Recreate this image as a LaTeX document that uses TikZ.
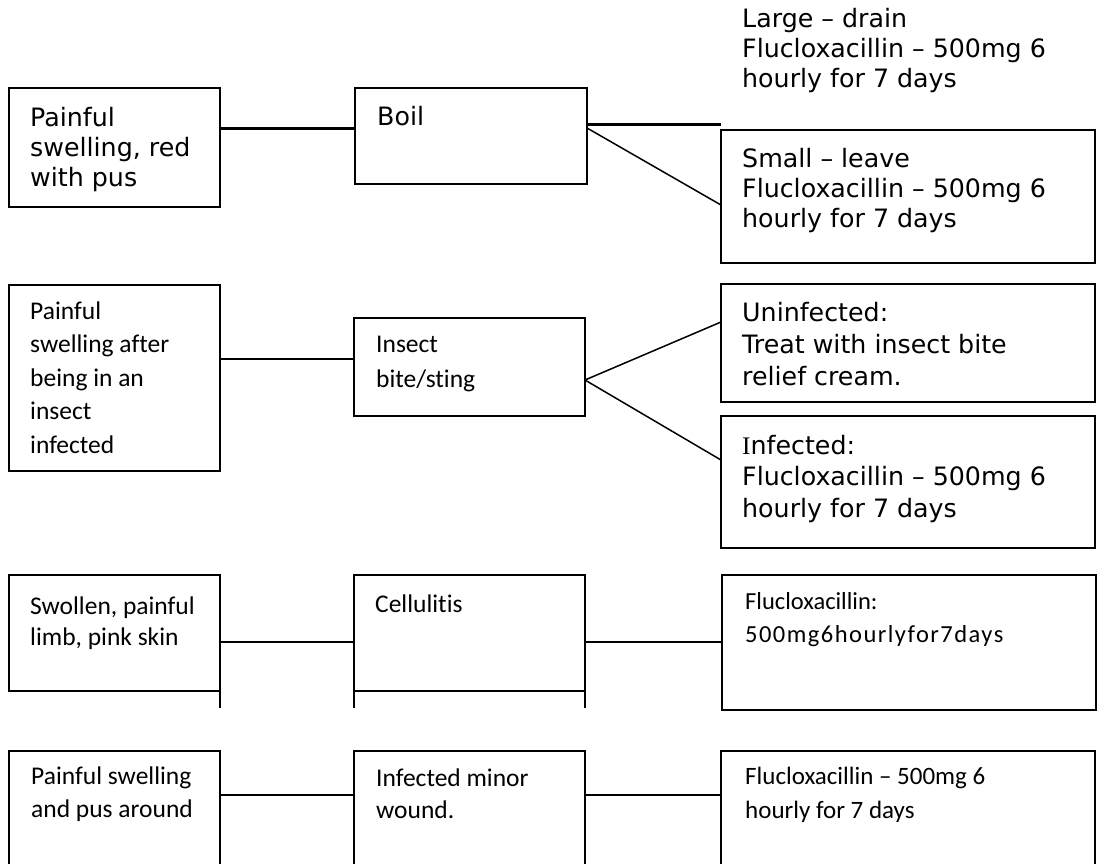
\documentclass[tikz,border=0pt]{standalone}
\usepackage{fontspec}
\newfontfamily\vsans{DejaVu Sans}
\newfontfamily\csans[Ligatures=NoCommon]{Carlito}
\newfontfamily\cspaced[LetterSpace=6,Ligatures=NoCommon]{Carlito}
\newfontfamily\rserif{Liberation Serif}
\newcommand\boxlines[1]{\parbox[t]{360pt}{\raggedright #1}}
\begin{document}
\begin{tikzpicture}[x=1pt,y=-1pt,
  panel/.style={draw, line width=2pt, inner sep=0pt, outer sep=0pt, anchor=north west},
  heavy/.style={panel, line width=2.6pt},
  vtxt/.style={inner sep=0pt, anchor=base west, font=\vsans\fontsize{25.3}{30}\selectfont},
  ctxt/.style={inner sep=0pt, anchor=base west, font=\csans\fontsize{25.5}{33.5}\selectfont},
  bold link/.style={line width=3pt},
  thin link/.style={line width=1.5pt},
  link/.style={line width=2.5pt}]
\path[use as bounding box] (0,0) rectangle (1098,863);
\clip (0,0) rectangle (1098,863);

% ---- Boil ----
\node[panel, minimum width=211, minimum height=119] (sym1) at (9,88) {};
\node[vtxt] (sym1t) at (30,126) {\boxlines{Painful\\swelling, red\\with pus}};
\node[panel, minimum width=232, minimum height=96] (dx1) at (355,88) {};
\node[vtxt] (dx1t) at (377,125) {Boil};
\coordinate (largeEnd) at (721,124);
\node[vtxt] (large) at (742,27) {\boxlines{Large – drain\\Flucloxacillin – 500mg 6\\hourly for 7 days}};
\node[panel, minimum width=374, minimum height=133] (small) at (721,130) {};
\node[vtxt] (smallt) at (742,167) {\boxlines{Small – leave\\Flucloxacillin – 500mg 6\\hourly for 7 days}};

\draw[bold link] ([yshift=-40pt]sym1.north east) -- ([yshift=-40pt]sym1.north east -| dx1.west);
\draw[bold link] ([yshift=-36pt]dx1.north east) -- (largeEnd);
\draw[thin link] ([yshift=-40pt]dx1.north east) -- ([yshift=-75pt]small.north west);

% ---- Insect bite ----
\node[heavy, line width=2.4pt, minimum width=211, minimum height=186] (sym2) at (9,285) {};
\node[ctxt] (sym2t) at (30,319) {\boxlines{Painful\\swelling after\\being in an\\insect\\infected}};
\node[heavy, line width=2.4pt, minimum width=231, minimum height=98] (dx2) at (354,318) {};
\node[ctxt, font=\csans\fontsize{25.5}{35}\selectfont] (dx2t) at (376,352) {\boxlines{Insect\\bite/sting}};
\node[panel, minimum width=374, minimum height=118] (uninf) at (721,284) {};
\node[vtxt, font=\vsans\fontsize{25.3}{32}\selectfont] (uninft) at (742,321) {\boxlines{Uninfected:\\Treat with insect bite\\relief cream.}};
\node[panel, minimum width=374, minimum height=132] (inf) at (721,416) {};
\node[vtxt, font=\vsans\fontsize{25.3}{31.5}\selectfont] (inft) at (742,454) {\boxlines{{\rserif I}nfected:\\Flucloxacillin – 500mg 6\\hourly for 7 days}};

\draw[link] ([yshift=-74pt]sym2.north east) -- ([yshift=-74pt]sym2.north east -| dx2.west);
\coordinate (fork2) at ([yshift=-62pt]dx2.north east);
\draw[thin link] (fork2) -- ([yshift=-38pt]uninf.north west);
\draw[thin link] (fork2) -- ([yshift=-44pt]inf.north west);

% ---- Cellulitis ----
\node[heavy, minimum width=211, minimum height=116] (sym3) at (9,575) {};
\node[ctxt, font=\csans\fontsize{25.5}{31}\selectfont] (sym3t) at (30,614) {\boxlines{Swollen, painful\\limb, pink skin}};
\node[heavy, minimum width=231, minimum height=116] (dx3) at (354,575) {};
\node[ctxt] (dx3t) at (375,612) {Cellulitis};
\node[heavy, minimum width=374, minimum height=135] (tx3) at (722,575) {};
\node[ctxt, font=\csans\fontsize{24.5}{33}\selectfont] (tx3t) at (745,609) {\boxlines{Flucloxacillin:\\{\cspaced 500mg6hourlyfor7days}}};

\draw[line width=2.6pt] (sym3.south east) -- ++(0,17);
\draw[line width=2.6pt] (dx3.south west) -- ++(0,17);
\draw[line width=2.6pt] (dx3.south east) -- ++(0,17);
\draw[link] ([yshift=-67pt]sym3.north east) -- ([yshift=-67pt]sym3.north east -| dx3.west);
\draw[link] ([yshift=-67pt]dx3.north east) -- ([yshift=-67pt]dx3.north east -| tx3.west);

% ---- Infected minor wound ----
\node[heavy, minimum width=211, minimum height=140] (sym4) at (9,751) {};
\node[ctxt] (sym4t) at (31,784) {\boxlines{Painful swelling\\and pus around}};
\node[heavy, minimum width=231, minimum height=140] (dx4) at (354,751) {};
\node[ctxt, font=\csans\fontsize{25.5}{32}\selectfont] (dx4t) at (376,786) {\boxlines{Infected minor\\wound.}};
\node[heavy, minimum width=374, minimum height=140] (tx4) at (721,751) {};
\node[ctxt, font=\csans\fontsize{25}{34}\selectfont] (tx4t) at (745,784) {\boxlines{Flucloxacillin – 500mg 6\\hourly for 7 days}};

\draw[link] ([yshift=-44pt]sym4.north east) -- ([yshift=-44pt]sym4.north east -| dx4.west);
\draw[link] ([yshift=-44pt]dx4.north east) -- ([yshift=-44pt]dx4.north east -| tx4.west);
\end{tikzpicture}
\end{document}
